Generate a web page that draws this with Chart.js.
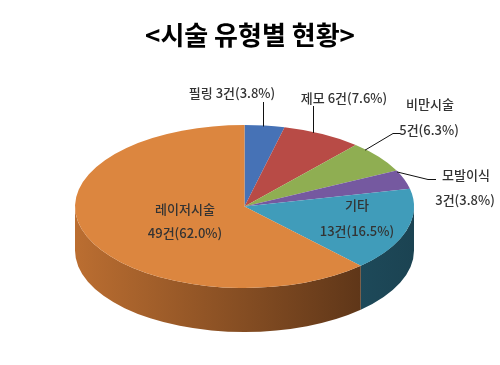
<!DOCTYPE html>
<html><head><meta charset="utf-8">
<script src="https://cdn.jsdelivr.net/npm/chart.js@4/dist/chart.umd.min.js"></script>
<style>html,body{margin:0;padding:0;background:#fff;}#wrap{width:500px;height:365px;position:relative;}</style>
</head><body><div id="wrap"><canvas id="c" width="500" height="365"></canvas></div>
<script>
// ---- data ----
const categories = ['필링', '제모', '비만시술', '모발이식', '기타', '레이저시술'];
const counts = [3, 6, 5, 3, 13, 49];
const percents = ['3.8%', '7.6%', '6.3%', '3.8%', '16.5%', '62.0%'];
const unitLabel = '건';
const chartTitle = '<시술 유형별 현황>';

// ---- styles ----
const topColors = ['#4672B6', '#B84B46', '#8FAE52', '#7559A0', '#409CBA', '#DC863F'];
const sideLeft  = ['#2F5187', '#8A3432', '#6A8438', '#553F78', '#2C6A80', '#BB6E31'];
const sideRight = ['#1E3558', '#5A2120', '#46592A', '#3A2A52', '#1B4352', '#4E2C14'];
const FONT = "'Noto Sans CJK KR', 'Noto Sans', sans-serif";
const TEXT = '#333333';
const E = {cx: 244.5, cy: 206.5, rx: 169.5, ry: 81.5, depth: 44};

// label layout: inside (radius fraction + nudge) or outside (text positions + leader)
const labelLayout = [
  {type: 'out', lines: [[232, 93]], oneLine: true, leaderX: 263, leaderTop: 102},
  {type: 'out', lines: [[344, 98]], oneLine: true, leaderX: 313, leaderTop: 106},
  {type: 'out', lines: [[430, 104], [429, 130]], startX: 365, leader: [[393, 133], [400, 133]]},
  {type: 'out', lines: [[466, 175], [465, 200]], startX: 397, leader: [[428, 179], [436, 179]]},
  {type: 'in', frac: 0.7, dx: -1, dy: -5, gap: 26},
  {type: 'in', frac: 0.4, dx: 3.5, dy: 2.5, gap: 24}
];

function pt(ang, f) {
  return [E.cx + E.rx * f * Math.cos(ang), E.cy + E.ry * f * Math.sin(ang)];
}
function edgeY(x) {
  const t = (x - E.cx) / E.rx;
  return E.cy - E.ry * Math.sqrt(Math.max(0, 1 - t * t));
}

const pie3d = {
  id: 'pie3d',
  beforeDatasetsDraw(chart) {
    const ctx = chart.ctx;
    const meta = chart.getDatasetMeta(0);
    const a0 = meta.data[0];
    const r = a0.outerRadius, x = a0.x, y = a0.y;
    meta.data.forEach((arc, i) => {
      const a = Math.max(arc.startAngle, 0), b = Math.min(arc.endAngle, Math.PI);
      if (b <= a) return;
      const g = ctx.createLinearGradient(E.cx - E.rx, 0, E.cx + E.rx, 0);
      g.addColorStop(0, sideLeft[i]);
      g.addColorStop(1, sideRight[i]);
      ctx.save();
      ctx.beginPath();
      ctx.ellipse(E.cx, E.cy, E.rx, E.ry, 0, a, b);
      ctx.ellipse(E.cx, E.cy + E.depth, E.rx, E.ry, 0, b, a, true);
      ctx.closePath();
      ctx.fillStyle = g;
      ctx.fill();
      ctx.restore();
    });
    ctx.save();
    ctx.translate(E.cx, E.cy);
    ctx.scale(E.rx / r, E.ry / r);
    ctx.translate(-x, -y);
  },
  afterDatasetsDraw(chart) {
    const ctx = chart.ctx;
    ctx.restore();
    const meta = chart.getDatasetMeta(0);
    ctx.save();
    ctx.font = '500 13px ' + FONT;
    ctx.fillStyle = TEXT;
    ctx.textAlign = 'center';
    ctx.textBaseline = 'middle';
    meta.data.forEach((arc, i) => {
      const L = labelLayout[i];
      const mid = (arc.startAngle + arc.endAngle) / 2;
      const valTxt = counts[i] + unitLabel + '(' + percents[i] + ')';
      if (L.type === 'in') {
        const [px, py] = pt(mid, L.frac);
        const cxl = px + L.dx, cyl = py + L.dy;
        ctx.fillText(categories[i], cxl, cyl - L.gap / 2);
        ctx.fillText(valTxt, cxl, cyl + L.gap / 2);
      } else {
        if (L.oneLine) {
          ctx.fillText(categories[i] + ' ' + valTxt, L.lines[0][0], L.lines[0][1]);
        } else {
          ctx.fillText(categories[i], L.lines[0][0], L.lines[0][1]);
          ctx.fillText(valTxt, L.lines[1][0], L.lines[1][1]);
        }
        ctx.beginPath();
        ctx.strokeStyle = '#111';
        ctx.lineWidth = 1;
        if (L.leaderX !== undefined) {
          const lx = Math.round(L.leaderX) + 0.5;
          ctx.moveTo(lx, edgeY(L.leaderX) + 1);
          ctx.lineTo(lx, L.leaderTop);
        } else {
          ctx.moveTo(L.startX, edgeY(L.startX) + 1);
          L.leader.forEach(p => ctx.lineTo(p[0], p[1] + 0.5));
        }
        ctx.stroke();
      }
    });
    ctx.restore();
  }
};

new Chart(document.getElementById('c'), {
  type: 'pie',
  data: {
    labels: categories,
    datasets: [{
      data: counts,
      backgroundColor: topColors,
      borderWidth: 0,
      hoverOffset: 0
    }]
  },
  options: {
    responsive: false,
    animation: false,
    events: [],
    rotation: 0,
    layout: {padding: 0},
    plugins: {
      legend: {display: false},
      tooltip: {enabled: false},
      title: {
        display: true,
        text: chartTitle,
        color: '#000',
        font: {family: FONT, size: 26, weight: 'bold'},
        padding: {top: 20, bottom: 10}
      }
    }
  },
  plugins: [pie3d]
});
</script>
</body></html>
